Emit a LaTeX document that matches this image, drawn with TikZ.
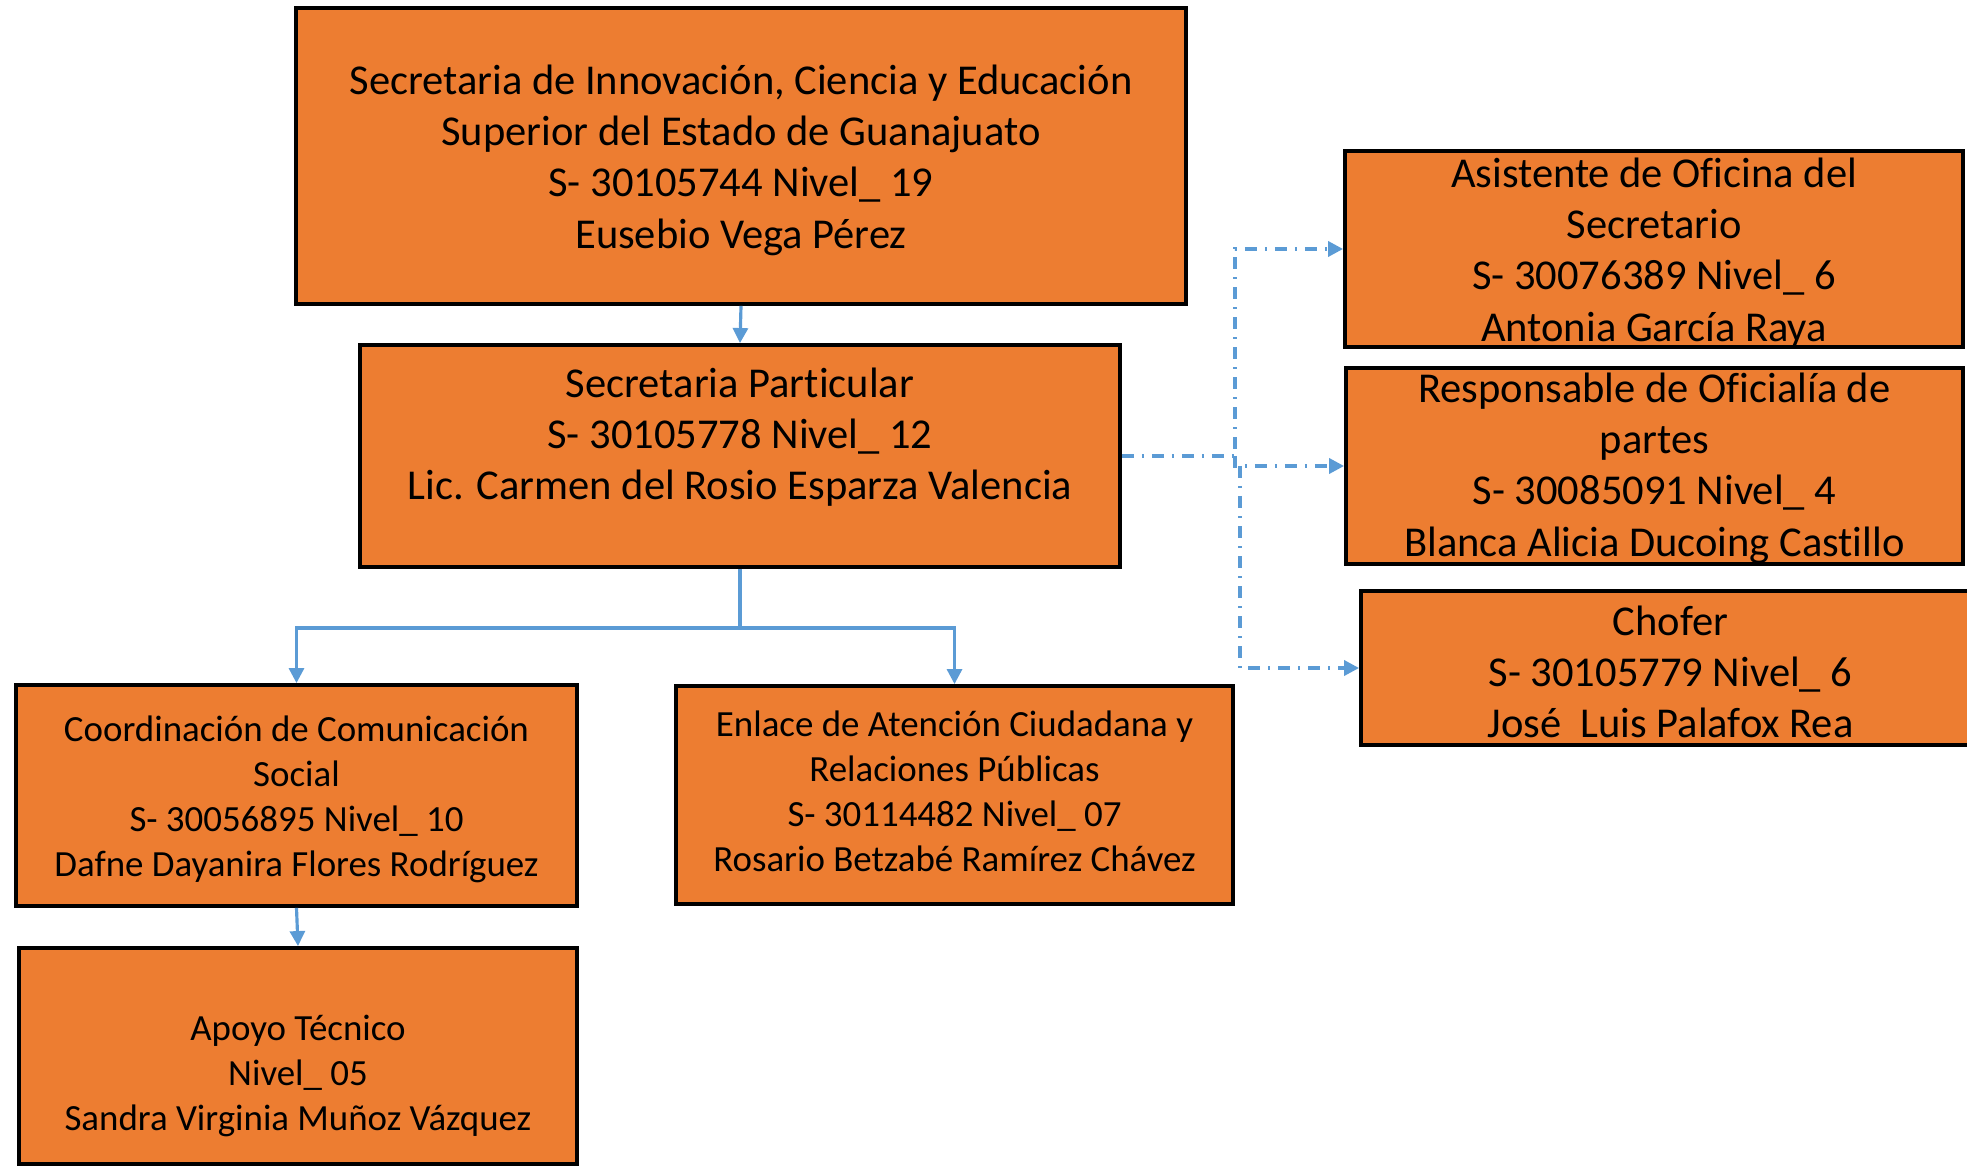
\documentclass[tikz,border=0pt]{standalone}
\usepackage{fontspec}
\setmainfont{Carlito}[Ligatures=NoCommon]
\usepackage{xcolor}
\usetikzlibrary{arrows.meta}
\definecolor{naranja}{HTML}{ED7D31}
\definecolor{azul}{HTML}{5B9BD5}

\begin{document}
\begin{tikzpicture}[
        puesto/.style={draw=black, line width=1.1pt, fill=naranja, inner sep=0pt},
        texto/.style={align=center, inner sep=0pt, yshift=-0.4mm, font=\fontsize{12.1}{14.6}\selectfont},
        textochico/.style={texto, font=\fontsize{10.5}{12.8}\selectfont},
        enlace/.style={azul, line width=0.9pt, -{Triangle[length=1.5mm,width=1.5mm]}},
        apoyo/.style={enlace, line width=1pt, dash pattern=on 1.2mm off 0.8mm on 0.2mm off 0.8mm}
    ]
        \useasboundingbox (0,0) rectangle (19.67,-11.67);

        \node [puesto, minimum width=8.9cm, minimum height=2.96cm] (sec) at (7.41,-1.56) {};
        \node [texto] (sec-txt) at (sec.center) {Secretaria de Innovación, Ciencia y Educación\\Superior del Estado de Guanajuato\\S- 30105744 Nivel\_ 19\\Eusebio Vega Pérez};

        \node [puesto, minimum width=7.6cm, minimum height=2.22cm] (sp) at (7.40,-4.56) {};
        \node [texto] (sp-txt) at ([yshift=2.3mm]sp.center) {Secretaria Particular\\S- 30105778 Nivel\_ 12\\Lic. Carmen del Rosio Esparza Valencia};

        \node [puesto, minimum width=5.61cm, minimum height=2.21cm] (ccs) at (2.965,-7.955) {};
        \node [textochico] (ccs-txt) at (ccs.center) {Coordinación de Comunicación\\Social\\S- 30056895 Nivel\_ 10\\Dafne Dayanira Flores Rodríguez};

        \node [puesto, minimum width=5.57cm, minimum height=2.18cm] (eac) at (9.545,-7.95) {};
        \node [textochico] (eac-txt) at ([yshift=0.8mm]eac.center) {Enlace de Atención Ciudadana y\\Relaciones Públicas\\S- 30114482 Nivel\_ 07\\Rosario Betzabé Ramírez Chávez};

        \node [puesto, minimum width=5.58cm, minimum height=2.16cm] (apt) at (2.98,-10.56) {};
        \node [textochico] (apt-txt) at ([yshift=-1.6mm]apt.center) {Apoyo Técnico\\Nivel\_ 05\\Sandra Virginia Muñoz Vázquez};

        \node [puesto, minimum width=6.18cm, minimum height=1.96cm] (aso) at (16.54,-2.49) {};
        \node [texto] (aso-txt) at (aso.center) {Asistente de Oficina del\\Secretario\\S- 30076389 Nivel\_ 6\\Antonia García Raya};

        \node [puesto, minimum width=6.17cm, minimum height=1.96cm] (rop) at (16.545,-4.66) {};
        \node [texto] (rop-txt) at ([yshift=0.2mm]rop.center) {Responsable de Oficialía de\\partes\\S- 30085091 Nivel\_ 4\\Blanca Alicia Ducoing Castillo};

        \node [puesto, minimum width=6.19cm, minimum height=1.54cm] (cho) at (16.705,-6.68) {};
        \node [texto] (cho-txt) at (cho.center) {Chofer\\S- 30105779 Nivel\_ 6\\José\ \ Luis Palafox Rea};

        \draw [enlace] (sec.south) -- (sp.north);
        \draw [enlace] (sp.south) -- ++(0,-0.59) coordinate (reparto) -| (ccs.north);
        \draw [enlace] (reparto) -| (eac.north);
        \draw [enlace] (ccs.south) -- (apt.north);

        \path (sp.east) ++(1.13,0) coordinate (nudo);
        \path (rop.west) ++(-1.04,0) coordinate (nudo2);
        \draw [apoyo] (sp.east) -- (nudo) |- (aso.west);
        \draw [apoyo] (nudo) |- (rop.west);
        \draw [apoyo] (nudo2) |- (cho.west);
    \end{tikzpicture}
\end{document}
